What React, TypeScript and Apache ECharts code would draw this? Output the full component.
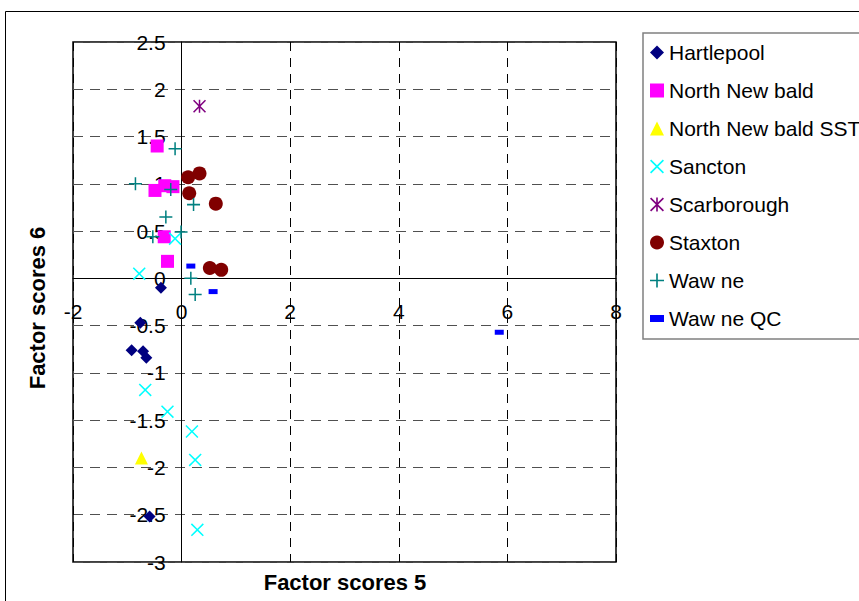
import React, { useEffect, useRef } from "react";
import * as echarts from "echarts";

const seriesNames = [
  "Hartlepool",
  "North New bald",
  "North New bald SST",
  "Sancton",
  "Scarborough",
  "Staxton",
  "Waw ne",
  "Waw ne QC",
];

const hartlepool = [[-0.38, -0.1], [-0.76, -0.47], [-0.92, -0.76], [-0.71, -0.77], [-0.65, -0.84], [-0.59, -2.52]];
const northNewbald = [[-0.45, 1.4], [-0.49, 0.93], [-0.31, 0.98], [-0.16, 0.97], [-0.32, 0.44], [-0.26, 0.18]];
const northNewbaldSST = [[-0.74, -1.9]];
const sancton = [[-0.78, 0.05], [-0.12, 0.42], [-0.67, -1.18], [-0.26, -1.41], [0.19, -1.62], [0.25, -1.92], [0.29, -2.66]];
const scarborough = [[0.33, 1.82]];
const staxton = [[0.12, 1.07], [0.33, 1.11], [0.14, 0.9], [0.63, 0.79], [0.52, 0.11], [0.73, 0.09]];
const wawne = [[-0.12, 1.37], [-0.85, 1.0], [-0.2, 0.94], [0.22, 0.78], [-0.29, 0.65], [-0.01, 0.49], [-0.53, 0.44], [0.17, 0.0], [0.25, -0.17]];
const wawneQC = [[0.17, 0.13], [0.58, -0.14], [5.85, -0.57]];

const xTicks = { min: -2, max: 8, interval: 2 };
const yTicks = { min: -3, max: 2.5, interval: 0.5 };

const PLUS = "path://M5.3,0H6.7V5.3H12V6.7H6.7V12H5.3V6.7H0V5.3H5.3Z";
const CROSS = "path://M0,1L1,0L6,5L11,0L12,1L7,6L12,11L11,12L6,7L1,12L0,11L5,6Z";
const STAR = "path://M0,1L1,0L6,5L11,0L12,1L7,6L12,11L11,12L6,7L1,12L0,11L5,6ZM5.3,0H6.7V12H5.3Z";
const DASH = "path://M0,0H10V5H0Z";

const FONT = "'Liberation Sans', Arial, sans-serif";

const GRID = { left: 73, right: 243, top: 42, bottom: 39, width: 543, height: 520 };

export default function App() {
  const ref = useRef<HTMLDivElement>(null);
  useEffect(() => {
    const chart = echarts.init(ref.current!, null, { renderer: "svg" });
    const datasets = [hartlepool, northNewbald, northNewbaldSST, sancton, scarborough, staxton, wawne, wawneQC];
    const symbols: any[] = ["diamond", "rect", "triangle", CROSS, STAR, "circle", PLUS, "rect"];
    const sizes: any[] = [12, 13, 13, 13, 13, 14, 13, [9, 5]];
    const colors = ["#000080", "#FF00FF", "#FFFF00", "#00FFFF", "#800080", "#800000", "#008080", "#0000FF"];
    const legendIcons = ["diamond", "rect", "triangle", CROSS, STAR, "circle", PLUS, DASH];

    // place axes through zero using offsets computed from the scale extents
    const xZeroOffset = -((0 - xTicks.min) / (xTicks.max - xTicks.min)) * GRID.width;
    const yZeroOffset = -((0 - yTicks.min) / (yTicks.max - yTicks.min)) * GRID.height;

    const option: any = {
      animation: false,
      textStyle: { fontFamily: FONT },
      grid: {
        left: GRID.left,
        right: GRID.right,
        top: GRID.top,
        bottom: GRID.bottom,
        show: true,
        borderColor: "#000",
        borderWidth: 1.5,
        backgroundColor: "transparent",
      },
      xAxis: {
        type: "value",
        min: xTicks.min,
        max: xTicks.max,
        interval: xTicks.interval,
        position: "bottom",
        offset: yZeroOffset,
        axisLine: { show: true, onZero: false, lineStyle: { color: "#000", width: 1 } },
        axisTick: { show: false },
        axisLabel: { color: "#000", fontSize: 21, margin: 23, fontFamily: FONT, showMinLabel: true, showMaxLabel: true },
        splitLine: { show: true, lineStyle: { color: "#000", type: [9, 7], width: 1 } },
      },
      yAxis: {
        type: "value",
        min: yTicks.min,
        max: yTicks.max,
        interval: yTicks.interval,
        position: "left",
        offset: xZeroOffset,
        axisLine: { show: true, onZero: false, lineStyle: { color: "#000", width: 1 } },
        axisTick: { show: false },
        axisLabel: { color: "#000", fontSize: 21, margin: 16, fontFamily: FONT, showMinLabel: true, showMaxLabel: true },
        splitLine: { show: true, lineStyle: { color: "#505050", type: [10, 7], width: 1 } },
      },
      legend: {
        orient: "vertical",
        left: 643,
        top: 33,
        padding: [9, 30, 10, 7],
        itemWidth: 14,
        itemHeight: 14,
        itemGap: 17,
        itemTextGap: 6,
        borderColor: "#808080",
        borderWidth: 1.5,
        textStyle: { color: "#000", fontSize: 21, lineHeight: 20, fontFamily: FONT },
        data: seriesNames.map((n, i) => ({ name: n, icon: legendIcons[i] })),
      },
      graphic: [
        {
          type: "rect",
          shape: { x: 5.5, y: 11.5, width: 1000, height: 1000 },
          style: { fill: "none", stroke: "#000", lineWidth: 1 },
          silent: true,
          z: -10,
        },
        {
          type: "text",
          x: 345,
          y: 582,
          style: {
            text: "Factor scores 5",
            font: `bold 22px ${FONT}`,
            fill: "#000",
            align: "center",
            verticalAlign: "middle",
          },
        },
        {
          type: "text",
          x: 37,
          y: 308,
          rotation: Math.PI / 2,
          style: {
            text: "Factor scores 6",
            font: `bold 22px ${FONT}`,
            fill: "#000",
            align: "center",
            verticalAlign: "middle",
          },
        },
      ],
      series: seriesNames.map((name, i) => ({
        name,
        type: "scatter",
        data: datasets[i],
        symbol: symbols[i],
        symbolSize: sizes[i],
        itemStyle: { color: colors[i], opacity: 1 },
        emphasis: { disabled: true },
      })),
    };
    chart.setOption(option);
    return () => chart.dispose();
  }, []);
  return (
    <div
      ref={ref}
      style={{ position: "fixed", left: 0, top: 0, width: 859, height: 601, background: "#fff" }}
    />
  );
}
